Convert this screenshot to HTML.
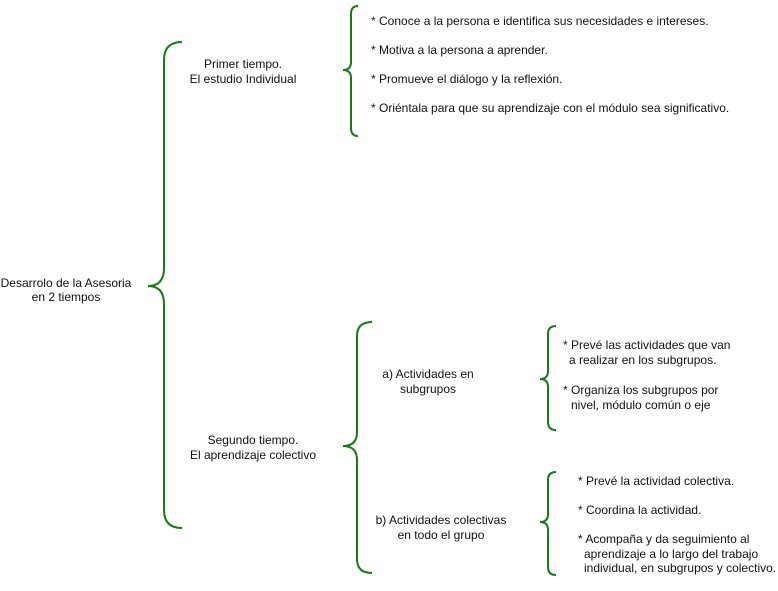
<!DOCTYPE html>
<html><head><meta charset="utf-8"><style>
html,body{margin:0;padding:0;background:#fff;}
svg{display:block;}
text{font-family:"Liberation Sans",Arial,sans-serif;font-size:12px;fill:#111;}
path{fill:none;stroke:#177a17;stroke-width:2;}
</style></head><body>
<svg width="778" height="591" viewBox="0 0 778 591" xmlns="http://www.w3.org/2000/svg">
<path d="M182 42 Q164 42 164 60 L164 268 Q164 286 148 286 Q164 286 164 304 L164 510 Q164 528 182 528"/>
<path d="M358 6 Q351 6 351 14 L351 62 Q351 70 343 70 Q351 70 351 78 L351 128 Q351 136 358 136"/>
<path d="M372 322 Q357 322 357 336 L357 432 Q357 446 343 446 Q357 446 357 460 L357 559 Q357 573 372 573"/>
<path d="M556 326 Q548 326 548 334 L548 371 Q548 379 540 379 Q548 379 548 387 L548 422 Q548 430 556 430"/>
<path d="M556 472 Q548 472 548 480 L548 514 Q548 522 540 522 Q548 522 548 530 L548 567 Q548 575 556 575"/>

<text x="66" y="287" text-anchor="middle">Desarrolo de la Asesoria</text>
<text x="66" y="301" text-anchor="middle">en 2 tiempos</text>

<text x="243" y="68" text-anchor="middle">Primer tiempo.</text>
<text x="243" y="83" text-anchor="middle">El estudio Individual</text>

<text x="371" y="25">* Conoce a la persona e identifica sus necesidades e intereses.</text>
<text x="371" y="54">* Motiva a la persona a aprender.</text>
<text x="371" y="83">* Promueve el diálogo y la reflexión.</text>
<text x="371" y="112">* Oriéntala para que su aprendizaje con el módulo sea significativo.</text>

<text x="253" y="444" text-anchor="middle">Segundo tiempo.</text>
<text x="253" y="459" text-anchor="middle">El aprendizaje colectivo</text>

<text x="428" y="378" text-anchor="middle">a) Actividades en</text>
<text x="428" y="393" text-anchor="middle">subgrupos</text>

<text x="441" y="524" text-anchor="middle">b) Actividades colectivas</text>
<text x="441" y="539" text-anchor="middle">en todo el grupo</text>

<text x="563" y="349">* Prevé las actividades que van</text>
<text x="569" y="364">a realizar en los subgrupos.</text>
<text x="563" y="394">* Organiza los subgrupos por</text>
<text x="571" y="409">nivel, módulo común o eje</text>

<text x="578" y="485">* Prevé la actividad colectiva.</text>
<text x="578" y="514">* Coordina la actividad.</text>
<text x="578" y="543">* Acompaña y da seguimiento al</text>
<text x="584" y="558">aprendizaje a lo largo del trabajo</text>
<text x="584" y="572">individual, en subgrupos y colectivo.</text>
</svg>
</body></html>
